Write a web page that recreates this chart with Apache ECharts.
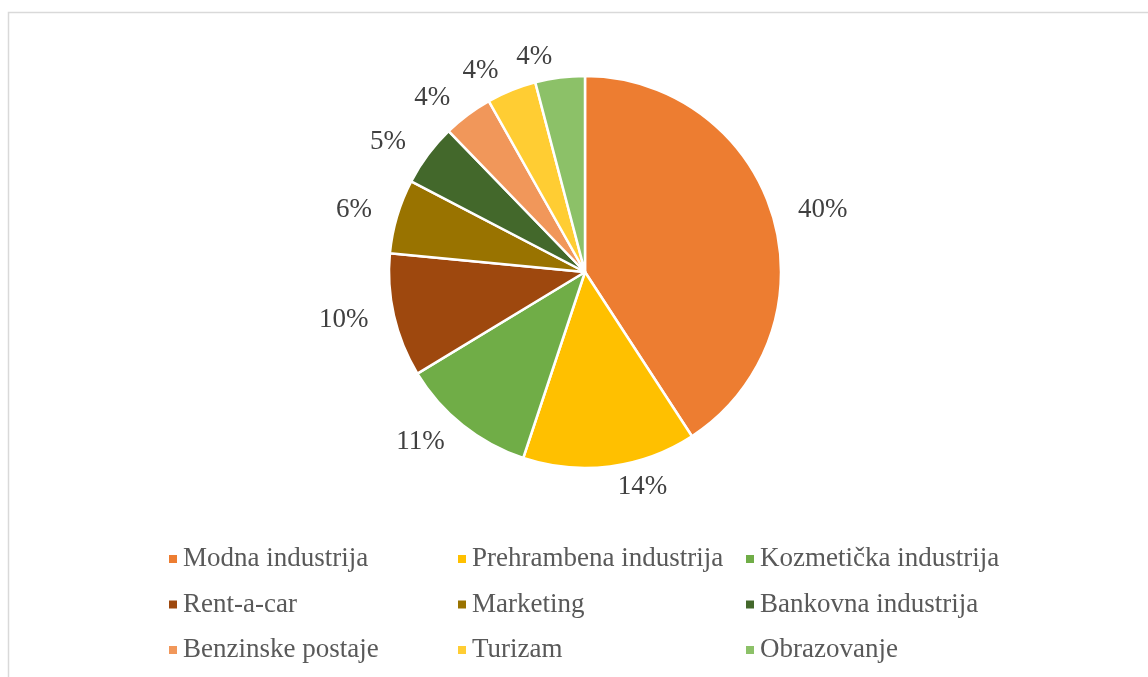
<!DOCTYPE html>
<html>
<head>
<meta charset="utf-8">
<script src="https://cdn.jsdelivr.net/npm/echarts@6/dist/echarts.min.js"></script>
<style>
  html, body { margin: 0; padding: 0; background: #fff; }
  #main { width: 1148px; height: 677px; }
</style>
</head>
<body>
<div id="main"></div>
<script>
// categories and values (percent)
var categories = ['Modna industrija', 'Prehrambena industrija', 'Kozmetička industrija',
  'Rent-a-car', 'Marketing', 'Bankovna industrija',
  'Benzinske postaje', 'Turizam', 'Obrazovanje'];
var values = [40, 14, 11, 10, 6, 5, 4, 4, 4];
var colors = ['#ED7D31', '#FFC000', '#70AD47', '#9E480E', '#997300', '#43682B', '#F1975A', '#FFCD33', '#8CC168'];

// legend columns (3 x 3 grid)
var legendCol1 = ['Modna industrija', 'Rent-a-car', 'Benzinske postaje'];
var legendCol2 = ['Prehrambena industrija', 'Marketing', 'Turizam'];
var legendCol3 = ['Kozmetička industrija', 'Bankovna industrija', 'Obrazovanje'];

var chart = echarts.init(document.getElementById('main'));

var serif = '"Liberation Serif", "Times New Roman", serif';

function makeLegend(data, left) {
  return {
    data: data,
    orient: 'vertical',
    left: left,
    top: 540,
    itemWidth: 10,
    itemHeight: 10,
    itemGap: 17.5,
    icon: 'rect',
    selectedMode: false,
    textStyle: {
      fontFamily: serif,
      fontSize: 27,
      lineHeight: 28,
      color: '#595959'
    }
  };
}

var seriesData = categories.map(function (name, i) {
  return { name: name, value: values[i], itemStyle: { color: colors[i] } };
});

var option = {
  animation: false,
  backgroundColor: '#fff',
  graphic: [{
    type: 'rect',
    shape: { x: 8.5, y: 12.5, width: 1200, height: 700 },
    style: { fill: 'none', stroke: '#d9d9d9', lineWidth: 1.5 },
    silent: true
  }],
  legend: [
    makeLegend(legendCol1, 162),
    makeLegend(legendCol2, 451),
    makeLegend(legendCol3, 739)
  ],
  series: [{
    type: 'pie',
    center: [585, 272],
    radius: 196,
    startAngle: 90,
    clockwise: true,
    avoidLabelOverlap: false,
    data: seriesData,
    itemStyle: {
      borderColor: '#fff',
      borderWidth: 2.5
    },
    label: {
      show: true,
      position: 'outside',
      formatter: '{c}%',
      fontFamily: serif,
      fontSize: 27,
      color: '#404040'
    },
    labelLine: {
      show: false,
      length: 21,
      length2: 0
    }
  }]
};

chart.setOption(option);
</script>
</body>
</html>
